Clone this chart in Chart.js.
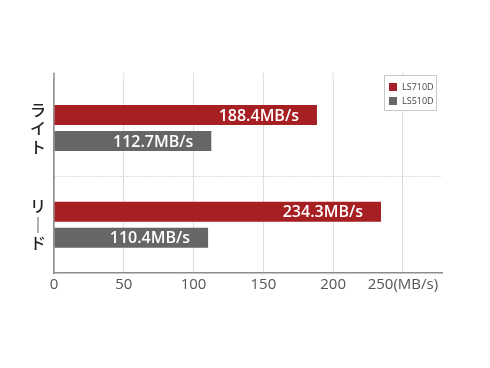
<!DOCTYPE html>
<html>
<head>
<meta charset="utf-8">
<script src="https://cdn.jsdelivr.net/npm/chart.js@4"></script>
<style>
  body { margin: 0; background: #fff; }
</style>
</head>
<body>
<canvas id="speedChart" width="490" height="368"></canvas>
<script>
// データ
const categories = ['ライト', 'リード'];
const seriesNames = ['LS710D', 'LS510D'];
const ls710d = [188.4, 234.3];
const ls510d = [112.7, 110.4];
const xTicks = [0, 50, 100, 150, 200, 250];
const unit = 'MB/s';

const RED = '#a61f22';
const GRAY = '#666666';

// 棒の中に値を表示
const valueLabels = {
    id: 'valueLabels',
    afterDatasetsDraw(chart) {
        const ctx = chart.ctx;
        ctx.save();
        ctx.font = '600 16px "Open Sans"';
        ctx.fillStyle = '#fff';
        ctx.textAlign = 'right';
        ctx.textBaseline = 'middle';
        chart.data.datasets.forEach((ds, i) => {
            chart.getDatasetMeta(i).data.forEach((bar, j) => {
                ctx.fillText(ds.data[j] + unit, bar.x - 18, bar.y + 1);
            });
        });
        ctx.restore();
    }
};

// グリッド線を少し上に伸ばす + 凡例
const extras = {
    id: 'extras',
    beforeDatasetsDraw(chart) {
        const ctx = chart.ctx, area = chart.chartArea, xs = chart.scales.x;
        ctx.save();
        xTicks.forEach(v => {
            const x = xs.getPixelForValue(v);
            ctx.strokeStyle = v === 0 ? '#8c8c8c' : '#dddddd';
            ctx.lineWidth = v === 0 ? 1.5 : 1;
            ctx.beginPath();
            ctx.moveTo(x, area.top - 7);
            ctx.lineTo(x, area.top);
            ctx.stroke();
        });
        ctx.restore();
    },
    afterDraw(chart) {
        const ctx = chart.ctx;
        const bx = 384, by = 75, bw = 52, bh = 35;
        ctx.save();
        ctx.fillStyle = '#fff';
        ctx.fillRect(bx, by, bw, bh);
        ctx.strokeStyle = '#c8c8c8';
        ctx.lineWidth = 1;
        ctx.strokeRect(bx + 0.5, by + 0.5, bw, bh);
        ctx.font = '9px "Open Sans"';
        ctx.textBaseline = 'middle';
        chart.data.datasets.forEach((ds, i) => {
            const y = by + 12 + i * 14;
            ctx.fillStyle = ds.backgroundColor;
            ctx.fillRect(bx + 5, y - 4, 8, 8);
            ctx.fillStyle = '#444';
            ctx.fillText(ds.label, bx + 18, y + 0.5);
        });
        ctx.restore();
    }
};

new Chart(document.getElementById('speedChart'), {
    type: 'bar',
    data: {
        labels: categories,
        datasets: [
            { label: seriesNames[0], data: ls710d, backgroundColor: RED },
            { label: seriesNames[1], data: ls510d, backgroundColor: GRAY }
        ]
    },
    options: {
        indexAxis: 'y',
        responsive: false,
        animation: false,
        datasets: { bar: { categoryPercentage: 0.539, barPercentage: 0.77 } },
        layout: { padding: { top: 79.75, right: 48, left: 0, bottom: 0 } },
        plugins: { legend: { display: false }, tooltip: { enabled: false } },
        scales: {
            x: {
                min: 0,
                max: 278,
                afterBuildTicks: s => { s.ticks = xTicks.map(v => ({ value: v })); },
                afterFit: s => { s.height = 95; },
                grid: { color: '#dddddd', drawTicks: false },
                border: { color: '#8c8c8c', width: 1.5 },
                ticks: {
                    padding: 3,
                    color: '#555',
                    font: { family: 'Open Sans', size: 15 },
                    callback: (v) => v === xTicks[xTicks.length - 1] ? v + '(' + unit + ')' : v
                }
            },
            y: {
                afterFit: s => { s.width = 54; },
                grid: {
                    offset: true,
                    drawTicks: false,
                    color: c => c.index === 1 ? '#bdbdbd' : 'transparent'
                },
                border: { color: '#8c8c8c', width: 1.5, dash: [1, 2] },
                ticks: {
                    padding: 8,
                    crossAlign: 'center',
                    color: '#222',
                    font: { family: 'Noto Sans CJK JP', size: 16, weight: 500, lineHeight: 1.15 },
                    // 縦書き: 長音符は縦棒にする
                    callback: function (v) {
                        return this.getLabelForValue(v).split('').map(ch => ch === 'ー' ? '｜' : ch);
                    }
                }
            }
        }
    },
    plugins: [valueLabels, extras]
});
</script>
</body>
</html>
